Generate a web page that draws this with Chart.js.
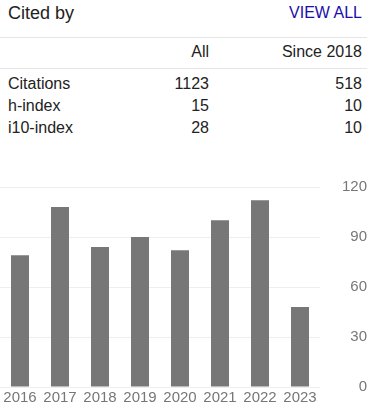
<!DOCTYPE html>
<html>
<head>
<meta charset="utf-8">
<script src="https://cdn.jsdelivr.net/npm/chart.js@4"></script>
<style>
  html, body { margin:0; padding:0; background:#fff; }
  body { width:367px; height:407px; position:relative; overflow:hidden; font-family:Arial, "Liberation Sans", sans-serif; color:#222; }
  .t { position:absolute; white-space:nowrap; line-height:1; }
  .hr { position:absolute; left:0; width:367px; height:1px; background:#e5e5e5; }
  #wrap { position:absolute; left:0; top:170px; width:367px; height:237px; }
  canvas { display:block; }
</style>
</head>
<body>
<div class="t" id="title" style="left:8px; top:4px; font-size:18px;">Cited by</div>
<div class="t" style="right:5px; top:5px; font-size:16px; color:#1a0dab;">VIEW ALL</div>
<div class="hr" style="top:37px;"></div>
<div class="t" style="right:158px; top:44px; font-size:16px;">All</div>
<div class="t" style="right:5px; top:44px; font-size:16px;">Since 2018</div>
<div class="hr" style="top:68px;"></div>
<div id="rows"></div>
<div id="wrap"><canvas id="c" width="367" height="237"></canvas></div>
<script>
const years = ["2016","2017","2018","2019","2020","2021","2022","2023"];
const citations = [79, 108, 84, 90, 82, 100, 112, 48];
const yTicks = [0, 30, 60, 90, 120];
const rowLabels = ["Citations", "h-index", "i10-index"];
const allValues = ["1123", "15", "28"];
const sinceValues = ["518", "10", "10"];

const rows = document.getElementById('rows');
rowLabels.forEach((lab, i) => {
  const top = 76 + i * 22;
  rows.insertAdjacentHTML('beforeend',
    `<div class="t" style="left:8px; top:${top}px; font-size:16px;">${lab}</div>` +
    `<div class="t" style="right:158px; top:${top}px; font-size:16px;">${allValues[i]}</div>` +
    `<div class="t" style="right:5px; top:${top}px; font-size:16px;">${sinceValues[i]}</div>`);
});

new Chart(document.getElementById('c'), {
  type: 'bar',
  data: {
    labels: years,
    datasets: [{ data: citations, backgroundColor: '#777777', barPercentage: 0.45, categoryPercentage: 1.0 }]
  },
  options: {
    responsive: false,
    animation: false,
    plugins: { legend: { display: false }, tooltip: { enabled: false } },
    layout: { padding: { top: 17, left: 0, right: 0, bottom: 0 } },
    scales: {
      x: {
        grid: { display: false, drawTicks: false },
        border: { display: false },
        ticks: { color: '#777', font: { family: 'Arial, "Liberation Sans"', size: 15 }, padding: 2, maxRotation: 0, autoSkip: false },
        afterFit: s => { s.height = 20; s.paddingLeft = 0; s.paddingRight = 0; }
      },
      y: {
        position: 'right',
        min: 0, max: 120,
        afterBuildTicks: s => { s.ticks = yTicks.map(v => ({ value: v })); },
        grid: { color: '#eeeeee', drawTicks: false },
        border: { display: false },
        ticks: { color: '#777', font: { family: 'Arial, "Liberation Sans"', size: 15 }, padding: 17, crossAlign: 'far' },
        afterFit: s => { s.width = 47; s.paddingTop = 0; s.paddingBottom = 0; }
      }
    }
  }
});
</script>
</body>
</html>
